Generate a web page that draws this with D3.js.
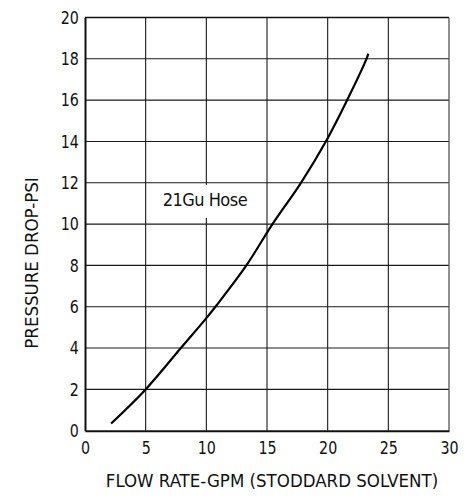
<!DOCTYPE html>
<html><head><meta charset="utf-8">
<script src="https://cdn.jsdelivr.net/npm/d3@7"></script>
<style>
html,body{margin:0;padding:0;background:#fff;}
text{font-family:"Liberation Sans Narrow","DejaVu Sans Condensed","Arial Narrow",sans-serif;fill:#111;}
</style></head>
<body>
<svg id="chart" width="473" height="500"></svg>
<script>
const flowGpm = [2.15, 5, 7.9, 10, 10.75, 13.3, 15.45, 17.8, 19.85, 21.6, 23.2, 23.35];
const pressurePsi = [0.35, 2, 4, 5.45, 6, 8, 10, 12, 14, 16, 18, 18.25];
const xTicks = [0, 5, 10, 15, 20, 25, 30];
const yTicks = [0, 2, 4, 6, 8, 10, 12, 14, 16, 18, 20];
const seriesLabel = "21Gu Hose";
const xTitle = "FLOW RATE-GPM (STODDARD SOLVENT)";
const yTitle = "PRESSURE DROP-PSI";

(function () {
const svg = d3.select("#chart");
const pL = 85, pR = 449, pT = 17.5, pB = 430.7;
const x = d3.scaleLinear().domain([0, 30]).range([pL, pR]);
const y = d3.scaleLinear().domain([0, 20]).range([pB, pT]);

// grid
const g = svg.append("g");
g.selectAll("line.vx").data(xTicks.slice(1, -1)).join("line")
  .attr("x1", d => x(d)).attr("x2", d => x(d)).attr("y1", pT).attr("y2", pB)
  .attr("stroke", "#1a1a1a").attr("stroke-width", 1.1);
g.selectAll("line.hy").data(yTicks.slice(1, -1)).join("line")
  .attr("x1", pL).attr("x2", pR).attr("y1", d => y(d)).attr("y2", d => y(d))
  .attr("stroke", "#1a1a1a").attr("stroke-width", 1.1);
// frame
svg.append("line").attr("x1", pL).attr("x2", pR).attr("y1", pT).attr("y2", pT).attr("stroke", "#111").attr("stroke-width", 1.3);
svg.append("line").attr("x1", pR).attr("x2", pR).attr("y1", pT).attr("y2", pB).attr("stroke", "#555").attr("stroke-width", 1.3);

// label with white background
const lab = svg.append("g");
lab.append("rect").attr("x", x(6.3)).attr("y", y(11.9)).attr("width", x(13.6) - x(6.3)).attr("height", y(10.3) - y(11.9)).attr("fill", "#fff");
lab.append("text").attr("x", x(6.4)).attr("y", y(10.9)).attr("font-size", 18).attr("textLength", 85).text(seriesLabel);

// axes
const xAxis = d3.axisBottom(x).tickValues(xTicks).tickSize(0).tickPadding(11).tickFormat(d3.format("d"));
const gx = svg.append("g").attr("transform", `translate(0,${pB})`).call(xAxis);
gx.select(".domain").attr("stroke", "#111").attr("stroke-width", 2);
gx.selectAll("text").attr("font-size", 18).attr("fill", "#111").attr("font-family", null)
  .attr("transform", "scale(0.88,1)");

const yAxis = d3.axisLeft(y).tickValues(yTicks).tickSize(0).tickPadding(7).tickFormat(d3.format("d"));
const gy = svg.append("g").attr("transform", `translate(${pL},0)`).call(yAxis);
gy.select(".domain").attr("stroke", "#111").attr("stroke-width", 2);
gy.selectAll("text").attr("font-size", 18).attr("fill", "#111").attr("font-family", null)
  .attr("transform", "scale(0.88,1)");

// curve
const pts = flowGpm.map((v, i) => [v, pressurePsi[i]]);
svg.append("path").datum(pts)
  .attr("d", d3.line().x(d => x(d[0])).y(d => y(d[1])).curve(d3.curveCatmullRom.alpha(0.5)))
  .attr("fill", "none").attr("stroke", "#000").attr("stroke-width", 2.2);

// titles
svg.append("text").attr("x", 272).attr("y", 487).attr("text-anchor", "middle").attr("font-size", 18.5).text(xTitle);
svg.append("text").attr("transform", "translate(38,263) rotate(-90)").attr("text-anchor", "middle").attr("font-size", 18.5).text(yTitle);
})();
</script>
</body></html>
